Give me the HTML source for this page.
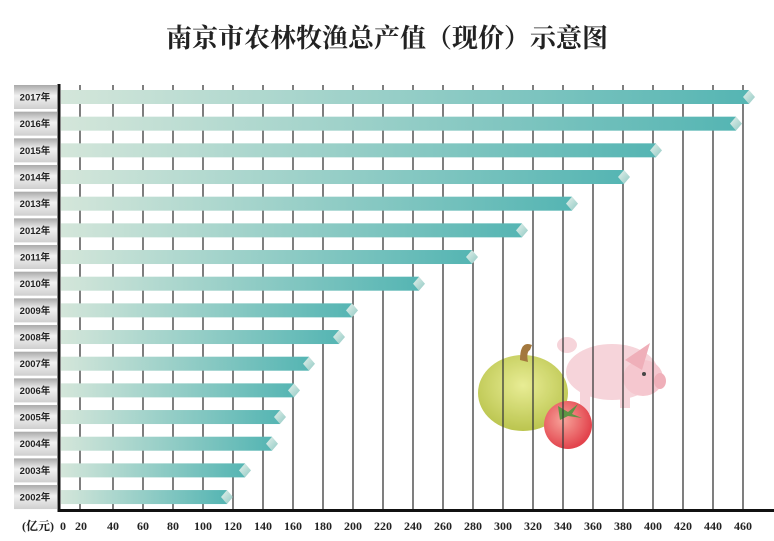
<!DOCTYPE html>
<html><head><meta charset="utf-8"><style>
body{margin:0;background:#fff}
svg{display:block}
text{font-family:"Liberation Serif","Noto Serif CJK SC",serif}
text.lb{font-family:"Liberation Sans","Noto Sans CJK SC",sans-serif;font-weight:600}
</style></head><body>
<svg width="774" height="541" viewBox="0 0 774 541" xmlns="http://www.w3.org/2000/svg">
<defs>
<linearGradient id="bar" x1="0" x2="1" y1="0" y2="0">
<stop offset="0" stop-color="#d4e6da"/><stop offset="1" stop-color="#55b5b3"/>
</linearGradient>
<linearGradient id="lab" x1="0" x2="0" y1="0" y2="1">
<stop offset="0" stop-color="#a9a9a9"/><stop offset="0.45" stop-color="#f2f2f2"/><stop offset="1" stop-color="#cfcfcf"/>
</linearGradient>
<linearGradient id="dia" x1="0" x2="1" y1="0" y2="1">
<stop offset="0" stop-color="#e6f1ec"/><stop offset="1" stop-color="#8fc9c3"/>
</linearGradient>
<radialGradient id="tom" cx="0.4" cy="0.4" r="0.6"><stop offset="0" stop-color="#f79a90"/><stop offset="1" stop-color="#e0303a"/></radialGradient>
<radialGradient id="pum" cx="0.5" cy="0.4" r="0.6"><stop offset="0" stop-color="#e6eb8a"/><stop offset="1" stop-color="#b4bf3c"/></radialGradient>
</defs>
<text x="387" y="47" font-size="26" font-weight="bold" text-anchor="middle" fill="#222">南京市农林牧渔总产值（现价）示意图</text>

<g opacity="0.9">
<ellipse cx="612" cy="372" rx="46" ry="28" fill="#f6d0d6"/>
<ellipse cx="567" cy="345" rx="10" ry="8" fill="#f6d0d6"/>
<ellipse cx="643" cy="378" rx="20" ry="18" fill="#f4c2ca"/>
<ellipse cx="660" cy="381" rx="6" ry="8" fill="#eea7b2"/>
<path d="M625 360 L650 343 L642 370Z" fill="#eea7b2"/>
<rect x="580" y="392" width="10" height="22" fill="#f6d0d6"/>
<rect x="620" y="392" width="10" height="16" fill="#f6d0d6"/>
<circle cx="644" cy="374" r="2" fill="#333"/>
<ellipse cx="523" cy="393" rx="45" ry="38" fill="url(#pum)"/>
<path d="M520 360 Q520 340 532 345 L530 350 Q526 352 528 362Z" fill="#9a6a2a"/>
<circle cx="568" cy="425" r="24" fill="url(#tom)"/>
<path d="M558 406 L568 412 L578 404 L572 414 L582 418 L568 416 L560 420Z" fill="#4c8a30"/>
</g>

<g stroke="#3a3a3a" stroke-width="1.3">
<line x1="80" y1="85" x2="80" y2="510"/>
<line x1="113" y1="85" x2="113" y2="510"/><line x1="143" y1="85" x2="143" y2="510"/><line x1="173" y1="85" x2="173" y2="510"/><line x1="203" y1="85" x2="203" y2="510"/><line x1="233" y1="85" x2="233" y2="510"/><line x1="263" y1="85" x2="263" y2="510"/><line x1="293" y1="85" x2="293" y2="510"/><line x1="323" y1="85" x2="323" y2="510"/><line x1="353" y1="85" x2="353" y2="510"/><line x1="383" y1="85" x2="383" y2="510"/><line x1="413" y1="85" x2="413" y2="510"/><line x1="443" y1="85" x2="443" y2="510"/><line x1="473" y1="85" x2="473" y2="510"/><line x1="503" y1="85" x2="503" y2="510"/><line x1="533" y1="85" x2="533" y2="510"/><line x1="563" y1="85" x2="563" y2="510"/><line x1="593" y1="85" x2="593" y2="510"/><line x1="623" y1="85" x2="623" y2="510"/><line x1="653" y1="85" x2="653" y2="510"/><line x1="683" y1="85" x2="683" y2="510"/><line x1="713" y1="85" x2="713" y2="510"/><line x1="743" y1="85" x2="743" y2="510"/>
</g>

<g id="rows" font-size="10" fill="#222"></g>

<line x1="59" y1="84" x2="59" y2="512" stroke="#111" stroke-width="3"/>
<line x1="58" y1="510.5" x2="774" y2="510.5" stroke="#111" stroke-width="3"/>

<g font-size="12" font-weight="bold" fill="#222" text-anchor="middle">
<text x="38" y="530">(亿元)</text><text x="63" y="530">0</text><text x="81" y="530">20</text>
<text x="113" y="530">40</text><text x="143" y="530">60</text><text x="173" y="530">80</text><text x="203" y="530">100</text><text x="233" y="530">120</text><text x="263" y="530">140</text><text x="293" y="530">160</text><text x="323" y="530">180</text><text x="353" y="530">200</text><text x="383" y="530">220</text><text x="413" y="530">240</text><text x="443" y="530">260</text><text x="473" y="530">280</text><text x="503" y="530">300</text><text x="533" y="530">320</text><text x="563" y="530">340</text><text x="593" y="530">360</text><text x="623" y="530">380</text><text x="653" y="530">400</text><text x="683" y="530">420</text><text x="713" y="530">440</text><text x="743" y="530">460</text>
</g>
</svg>
<script>
var ends=[755,742,662,630,578,528,478,425,358,345,315,300,286,278,251,233];
var g=document.getElementById('rows'),h='';
for(var i=0;i<16;i++){var y=97+i*26.67,e=ends[i],yr=2017-i;
h+='<rect x="14" y="'+(y-12)+'" width="43" height="24" fill="url(#lab)"/>';
h+='<text class="lb" x="35" y="'+(y+3.5)+'" text-anchor="middle" font-size="9.5">'+yr+'年</text>';
h+='<rect x="61" y="'+(y-7)+'" width="'+(e-61-6)+'" height="14" fill="url(#bar)"/>';
h+='<path d="M'+(e-12)+' '+y+' L'+(e-6)+' '+(y-7)+' L'+e+' '+y+' L'+(e-6)+' '+(y+7)+'Z" fill="url(#dia)"/>';}
g.innerHTML=h;
</script>
</body></html>
